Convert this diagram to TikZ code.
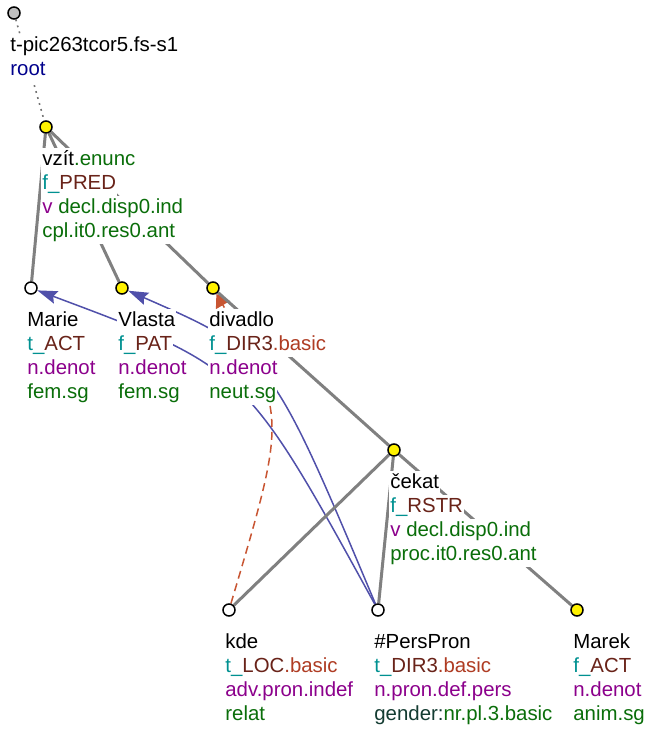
\documentclass[tikz,border=0pt]{standalone}
\usepackage{fontspec}
\setmainfont{Liberation Sans}
\usetikzlibrary{arrows.meta}
\pgfdeclarelayer{bg}
\pgfsetlayers{bg,main}
\definecolor{cTeal}{RGB}{0,145,145}
\definecolor{cBrown}{RGB}{105,35,25}
\definecolor{cBasic}{RGB}{175,60,35}
\definecolor{cPurple}{RGB}{140,0,140}
\definecolor{cGreen}{RGB}{10,110,10}
\definecolor{cGender}{RGB}{20,60,50}
\definecolor{cRoot}{RGB}{0,0,140}
\definecolor{cArrow}{RGB}{80,80,170}
\definecolor{cOrange}{RGB}{200,85,50}
\definecolor{cEdge}{RGB}{128,128,128}
\begin{document}
\begin{tikzpicture}[x=0.5pt,y=-0.5pt,
  lbl/.style={fill=white, anchor=base west, inner xsep=0.5pt, inner ysep=0.75pt,
    text height=8pt, text depth=2.5pt, font=\fontsize{10.2}{12}\selectfont},
  dotbase/.style={circle, draw=black, line width=0.75pt, minimum size=6pt, inner sep=0pt},
  doty/.style={dotbase, fill=yellow},
  dotw/.style={dotbase, fill=white},
  dotroot/.style={dotbase, fill=black!25},
  treeedge/.style={draw=cEdge, line width=1.5pt},
  rootedge/.style={draw=black!55, line width=0.8pt, dash pattern=on 0.9pt off 2.2pt},
  corefblue/.style={draw=cArrow, line width=0.75pt, -{Stealth[length=10pt,width=6.5pt,inset=1.5pt]}},
  coreforange/.style={draw=cOrange, line width=0.75pt, dash pattern=on 4pt off 2.5pt, -{Triangle[length=6.5pt,width=8pt]}}
]
\useasboundingbox (0,0) rectangle (644,729);

% circles
\node[dotroot] (root) at (14,13) {};
\node[doty] (vzit) at (46,127) {};
\node[dotw] (marie) at (31,288) {};
\node[doty] (vlasta) at (122,288) {};
\node[doty] (divadlo) at (213,288) {};
\node[doty] (cekat) at (394,450) {};
\node[dotw] (kde) at (229,610) {};
\node[dotw] (pp) at (378,610) {};
\node[doty] (marek) at (577,610) {};

\begin{pgfonlayer}{bg}
  \draw[corefblue] (pp) .. controls (245,368) .. (marie);
  \draw[corefblue] (pp) .. controls (270,353) .. (vlasta);
  \draw[coreforange] (kde) .. controls (287,415) .. (divadlo);
  \draw[rootedge] (root) -- (vzit);
  \draw[treeedge] (vzit) -- (marie);
  \draw[treeedge] (vzit) -- (vlasta);
  \draw[treeedge] (vzit) -- (divadlo);
  \draw[treeedge] (divadlo) -- (cekat);
  \draw[treeedge] (cekat) -- (kde);
  \draw[treeedge] (cekat) -- (pp);
  \draw[treeedge] (cekat) -- (marek);
\end{pgfonlayer}

% root
\node[lbl] (rootA) at (9,51) {t-pic263tcor5.fs-s1};
\node[lbl, text=cRoot] (rootB) at (9,75.3) {root};
% vzit
\node[lbl] (vzitA) at (41,165) {vzít\textcolor{cGreen}{.enunc}};
\node[lbl] (vzitB) at (41,189.3) {\textcolor{cTeal}{f\_}\textcolor{cBrown}{PRED}};
\node[lbl] (vzitC) at (41,213.6) {\textcolor{cPurple}{v} \textcolor{cGreen}{decl.disp0.ind}};
\node[lbl] (vzitD) at (41,237.9) {\textcolor{cGreen}{cpl.it0.res0.ant}};
% Marie
\node[lbl] (marieA) at (26,326) {Marie};
\node[lbl] (marieB) at (26,350.3) {\textcolor{cTeal}{t\_}\textcolor{cBrown}{ACT}};
\node[lbl, text=cPurple] (marieC) at (26,374.6) {n.denot};
\node[lbl, text=cGreen] (marieD) at (26,398.9) {fem.sg};
% Vlasta
\node[lbl] (vlastaA) at (117,326) {Vlasta};
\node[lbl] (vlastaB) at (117,350.3) {\textcolor{cTeal}{f\_}\textcolor{cBrown}{PAT}};
\node[lbl, text=cPurple] (vlastaC) at (117,374.6) {n.denot};
\node[lbl, text=cGreen] (vlastaD) at (117,398.9) {fem.sg};
% divadlo
\node[lbl] (divadloA) at (208,326) {divadlo};
\node[lbl] (divadloB) at (208,350.3) {\textcolor{cTeal}{f\_}\textcolor{cBrown}{DIR3}\textcolor{cBasic}{.basic}};
\node[lbl, text=cPurple] (divadloC) at (208,374.6) {n.denot};
\node[lbl, text=cGreen] (divadloD) at (208,398.9) {neut.sg};
% cekat
\node[lbl] (cekatA) at (389,488) {čekat};
\node[lbl] (cekatB) at (389,512.3) {\textcolor{cTeal}{f\_}\textcolor{cBrown}{RSTR}};
\node[lbl] (cekatC) at (389,536.6) {\textcolor{cPurple}{v} \textcolor{cGreen}{decl.disp0.ind}};
\node[lbl, text=cGreen] (cekatD) at (389,560.9) {proc.it0.res0.ant};
% kde
\node[lbl] (kdeA) at (224,648) {kde};
\node[lbl] (kdeB) at (224,672.3) {\textcolor{cTeal}{t\_}\textcolor{cBrown}{LOC}\textcolor{cBasic}{.basic}};
\node[lbl, text=cPurple] (kdeC) at (224,696.6) {adv.pron.indef};
\node[lbl, text=cGreen] (kdeD) at (224,720.9) {relat};
% PersPron
\node[lbl] (ppA) at (373,648) {\#PersPron};
\node[lbl] (ppB) at (373,672.3) {\textcolor{cTeal}{t\_}\textcolor{cBrown}{DIR3}\textcolor{cBasic}{.basic}};
\node[lbl, text=cPurple] (ppC) at (373,696.6) {n.pron.def.pers};
\node[lbl] (ppD) at (373,720.9) {\textcolor{cGender}{gender:}\textcolor{cGreen}{nr.pl.3.basic}};
% Marek
\node[lbl] (marekA) at (572,648) {Marek};
\node[lbl] (marekB) at (572,672.3) {\textcolor{cTeal}{f\_}\textcolor{cBrown}{ACT}};
\node[lbl, text=cPurple] (marekC) at (572,696.6) {n.denot};
\node[lbl, text=cGreen] (marekD) at (572,720.9) {anim.sg};
\end{tikzpicture}
\end{document}
